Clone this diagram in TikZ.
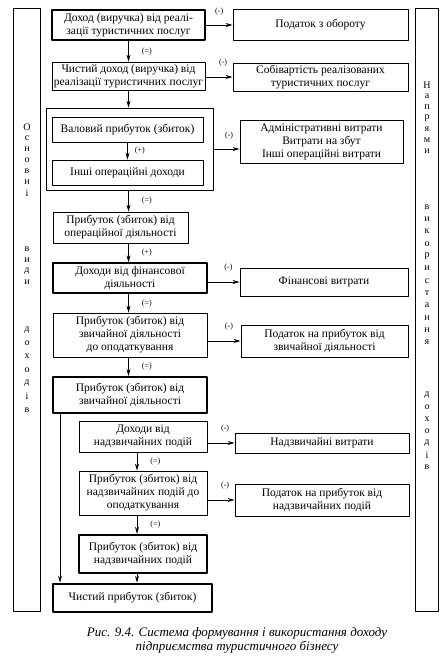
\documentclass[tikz,border=0pt]{standalone}
\usepackage{fontspec}
\setmainfont{Liberation Serif}
\usetikzlibrary{arrows.meta}

\begin{document}
\begin{tikzpicture}[x=1pt, y=-1pt, line join=round, >={Stealth[length=7pt, width=4pt]},
		blok/.style={draw, line width=0.8pt, align=center, inner sep=1pt, font=\fontsize{11.5}{13}\selectfont},
		znak/.style={font=\fontsize{8}{8}\selectfont, inner sep=1pt},
		bukva/.style={font=\fontsize{10}{10}\selectfont, inner sep=0pt}]
	\useasboundingbox (0,0) rectangle (446,656);
	\path (128.5,0) coordinate (os1)
	(137,0) coordinate (os2)
	(60,0) coordinate (os3);
	
	% bokovi kolonky
	\node[draw, line width=0.9pt, minimum width=27, minimum height=603] (lcol) at (26.5,309.5) {};
	\node[draw, line width=0.9pt, minimum width=23, minimum height=603] (rcol) at (426.5,309.5) {};
	\foreach \l [count=\i] in {О,с,н,о,в,н,і}
		\node[bukva] (ov\i) at (27,{127+(\i-1)*11}) {\l};
	\foreach \l [count=\i] in {в,и,д,и}
		\node[bukva] (vy\i) at (27,{249+(\i-1)*11}) {\l};
	\foreach \l [count=\i] in {д,о,х,о,д,і,в}
		\node[bukva] (dl\i) at (27,{330+(\i-1)*13.3}) {\l};
	\foreach \l [count=\i] in {Н,а,п,р,я,м,и}
		\node[bukva] (np\i) at (427,{85+(\i-1)*11}) {\l};
	\foreach \l [count=\i] in {в,и,к,о,р,и,с,т,а,н,н,я}
		\node[bukva] (vk\i) at (427,{207+(\i-1)*12.3}) {\l};
	\foreach \l [count=\i] in {д,о,х,о,д,і,в}
		\node[bukva] (dr\i) at (427,{395+(\i-1)*12}) {\l};
	
	% dokhody
	\node[blok, line width=1.6pt, minimum width=153, minimum height=30] (d1) at (128.5,25) {Доход (виручка) від реалі-\\зації туристичних послуг};
	\node[blok, minimum width=153, minimum height=28] (d2) at (128.5,76) {Чистий доход (виручка) від\\реалізації туристичних послуг};
	\node[draw, line width=0.8pt, minimum width=167, minimum height=82] (grp) at (129.5,149) {};
	\node[blok, minimum width=151, minimum height=25] (g1) at (127.5,129.5) {Валовий прибуток (збиток)};
	\node[blok, minimum width=151, minimum height=25] (g2) at (127.5,172.5) {Інші операційні доходи};
	\node[blok, minimum width=135, minimum height=31] (d3) at (120.5,227.5) {Прибуток (збиток) від\\операційної діяльності};
	\node[blok, line width=1.3pt, minimum width=154, minimum height=30] (d4) at (130,278) {Доходи від фінансової\\діяльності};
	\node[blok, minimum width=154, minimum height=44] (d5) at (130,335) {Прибуток (збиток) від\\звичайної діяльності\\до оподаткування};
	\node[blok, line width=2pt, minimum width=154, minimum height=36] (d6) at (130,395) {Прибуток (збиток) від\\звичайної діяльності};
	\node[blok, minimum width=128, minimum height=31] (d7) at (143,436.5) {Доходи від\\надзвичайних подій};
	\node[blok, minimum width=128, minimum height=44] (d8) at (143,493) {Прибуток (збиток) від\\надзвичайних подій до\\оподаткування};
	\node[blok, line width=2.2pt, minimum width=128, minimum height=38] (d9) at (143,554) {Прибуток (збиток) від\\надзвичайних подій};
	\node[blok, line width=2.6pt, minimum width=159, minimum height=28] (d10) at (132.5,598) {Чистий прибуток (збиток)};
	
	% vytraty
	\node[blok, minimum width=175, minimum height=31] (v1) at (320.5,24.5) {Податок з обороту};
	\node[blok, minimum width=175, minimum height=28] (v2) at (320.5,77) {Собівартість реалізованих\\туристичних послуг};
	\node[blok, minimum width=163, minimum height=43] (v3) at (321.5,141.5) {Адміністративні витрати\\Витрати на збут\\Інші операційні витрати};
	\node[blok, minimum width=168, minimum height=28] (v4) at (324,282) {Фінансові витрати};
	\node[blok, minimum width=167, minimum height=32] (v5) at (324.5,341) {Податок на прибуток від\\звичайної діяльності};
	\node[blok, minimum width=174, minimum height=20] (v6) at (322,443) {Надзвичайні витрати};
	\node[blok, minimum width=174, minimum height=32] (v7) at (322,500) {Податок на прибуток від\\надзвичайних подій};
	
	% strilky vnyz
	\draw[->, line width=0.8pt] (d1) -- (d2) node[znak, midway, right=12pt] {(=)};
	\draw[->, line width=0.8pt] (d2.south) -- (d2.south |- grp.north);
	\draw[->, line width=0.8pt] (g1) -- (g1.south |- g2.north) node[znak, midway, right=6pt] {(+)};
	\draw[->, line width=0.8pt] (grp.south -| os1) -- (d3.north -| os1) node[znak, midway, right=12pt] {(=)};
	\draw[->, line width=0.8pt] (d3.south -| os1) -- (d4.north -| os1) node[znak, midway, right=12pt] {(+)};
	\draw[->, line width=0.8pt] (d4.south -| os1) -- (d5.north -| os1) node[znak, midway, right=12pt] {(=)};
	\draw[->, line width=0.8pt] (d5.south -| os1) -- (d6.north -| os1) node[znak, midway, right=12pt] {(=)};
	\draw[->, line width=0.8pt] (d7.south -| os2) -- (d8.north -| os2) node[znak, midway, right=12pt] {(=)};
	\draw[->, line width=0.8pt] (d8.south -| os2) -- (d9.north -| os2) node[znak, midway, right=12pt] {(=)};
	\draw[->, line width=0.8pt] (d9.south -| os2) -- (d10.north -| os2);
	\draw[->, line width=0.8pt] (d6.south -| os3) -- (d10.north -| os3);
	
	% strilky vpravo
	\draw[->, line width=0.8pt] (d1.east) -- (d1.east -| v1.west) node[znak, pos=0.5, above=8pt] {(-)};
	\draw[->, line width=0.8pt] (grp.east) -- (grp.east -| v3.west) node[znak, pos=0.6, above=8pt] {(-)};
	\foreach \d/\v in {d2/v2, d4/v4, d5/v5, d7/v6, d8/v7}
		\draw[->, line width=0.8pt] (\v.west -| \d.east) -- (\v.west) node[znak, pos=0.65, above=9pt] {(-)};
	
	\node[font=\fontsize{13}{14}\selectfont\itshape, align=center] (cap) at (237,640) {Рис. 9.4. Система формування і використання доходу\\підприємства туристичного бізнесу};
\end{tikzpicture}
\end{document}
